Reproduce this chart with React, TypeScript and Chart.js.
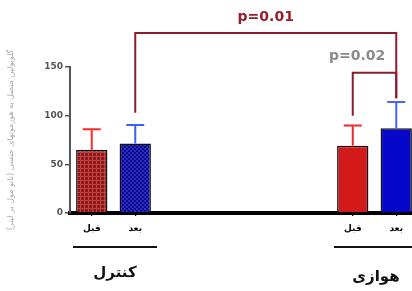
import React, { useEffect, useRef } from "react";
import { Chart, registerables } from "chart.js";

Chart.register(...registerables);

// ---- data ----
const conditionLabels = ["قبل", "بعد"];
const groupLabels = ["کنترل", "هوازی"];
const meanValues = [65, 71.5, 69, 87]; // control before, control after, aerobic before, aerobic after
const sdValues = [21, 19, 21, 27];
const pLabels = ["p=0.01", "p=0.02"];
const pPairs = [
  [1, 3],
  [2, 3],
];
const pLevels = [185, 144];
const pLegs = [
  [103, 118],
  [100, 118],
];
const yTitle = "گلوبولین متصل به هورمونهای جنسی (نانو مول بر لیتر)";
const yMax = 150;
const yStep = 50;

const GAP = 4;
const categoryLabels = [...conditionLabels, ...Array(GAP).fill(""), ...conditionLabels];
const barCategory = [0, 1, conditionLabels.length + GAP, conditionLabels.length + GAP + 1];

const FONT = "'DejaVu Sans', 'Liberation Sans', sans-serif";

function makePattern(ctx: CanvasRenderingContext2D, bg: string, fg: string, kind: string) {
  const c = document.createElement("canvas");
  c.width = 4;
  c.height = 4;
  const g = c.getContext("2d")!;
  g.fillStyle = bg;
  g.fillRect(0, 0, 4, 4);
  g.fillStyle = fg;
  if (kind === "grid") {
    g.fillRect(0, 0, 1, 4);
    g.fillRect(0, 0, 4, 1);
  } else {
    g.fillRect(0, 0, 2, 2);
    g.fillRect(2, 2, 2, 2);
  }
  return ctx.createPattern(c, "repeat")!;
}

export default function App() {
  const ref = useRef<HTMLCanvasElement>(null);

  useEffect(() => {
    const canvas = ref.current!;
    const ctx = canvas.getContext("2d")!;
    const fills = [
      makePattern(ctx, "#8a1a1c", "#c4403f", "grid"),
      makePattern(ctx, "#0b0b7c", "#2a2ad0", "check"),
      "#d31a1a",
      "#0707c9",
    ];
    const errColors = ["#ff2a2a", "#3f5cff", "#ee2a2a", "#4466ff"];

    const data: (number | null)[] = categoryLabels.map(() => null);
    const bg: any[] = categoryLabels.map(() => "transparent");
    barCategory.forEach((ci, i) => {
      data[ci] = meanValues[i];
      bg[ci] = fills[i];
    });

    const overlay = {
      id: "overlay",
      afterDraw(chart: any) {
        const c = chart.ctx as CanvasRenderingContext2D;
        const xs = chart.scales.x;
        const ys = chart.scales.y;
        const meta = chart.getDatasetMeta(0);
        c.save();
        // error bars
        barCategory.forEach((ci, i) => {
          const el = meta.data[ci];
          const x = el.x;
          const yTop = ys.getPixelForValue(meanValues[i] + sdValues[i]);
          c.strokeStyle = errColors[i];
          c.lineWidth = 2;
          c.beginPath();
          c.moveTo(x, el.y);
          c.lineTo(x, yTop);
          c.moveTo(x - 9, yTop);
          c.lineTo(x + 9, yTop);
          c.stroke();
        });
        // significance brackets
        pPairs.forEach((pair, k) => {
          const xa = xs.getPixelForValue(barCategory[pair[0]]);
          const xb = xs.getPixelForValue(barCategory[pair[1]]);
          const yl = ys.getPixelForValue(pLevels[k]);
          const ya = ys.getPixelForValue(pLegs[k][0]);
          const yb = ys.getPixelForValue(pLegs[k][1]);
          c.strokeStyle = "#8c1d2e";
          c.lineWidth = 2;
          c.beginPath();
          c.moveTo(xa, ya);
          c.lineTo(xa, yl);
          c.lineTo(xb, yl);
          c.lineTo(xb, yb);
          c.stroke();
          c.font = `bold 14px ${FONT}`;
          c.textBaseline = "middle";
          if (k === 0) {
            c.fillStyle = "#9a1c2c";
            c.textAlign = "center";
            c.fillText(pLabels[k], (xa + xb) / 2, yl - 16);
          } else {
            c.fillStyle = "#8a8a8a";
            c.textAlign = "right";
            c.fillText(pLabels[k], xb - 11, yl - 16);
          }
        });
        // group underline + labels
        const half = (xs.getPixelForValue(1) - xs.getPixelForValue(0)) / 2;
        groupLabels.forEach((g, gi) => {
          const first = gi === 0 ? barCategory[0] : barCategory[2];
          const last = gi === 0 ? barCategory[1] : barCategory[3];
          const x0 = xs.getPixelForValue(first) - half + 3;
          const x1 = xs.getPixelForValue(last) + half;
          const yLine = ys.bottom + 34;
          c.strokeStyle = "#111";
          c.lineWidth = 2;
          c.beginPath();
          c.moveTo(x0, yLine);
          c.lineTo(x1, yLine);
          c.stroke();
          c.fillStyle = "#111";
          c.font = `bold 15px ${FONT}`;
          c.textAlign = "center";
          c.textBaseline = "middle";
          c.fillText(g, (x0 + x1) / 2, yLine + 26 + gi * 4);
        });
        c.restore();
      },
    };

    const chart = new Chart(canvas, {
      type: "bar",
      data: {
        labels: categoryLabels,
        datasets: [
          {
            data,
            backgroundColor: bg,
            borderColor: "#111",
            borderWidth: 1.5,
            barPercentage: 0.72,
            categoryPercentage: 1,
          },
        ],
      },
      options: {
        animation: false,
        responsive: false,
        maintainAspectRatio: false,
        layout: { padding: { top: 67, right: 0, bottom: 0, left: 0 } },
        plugins: { legend: { display: false }, tooltip: { enabled: false } },
        scales: {
          x: {
            type: "category",
            offset: true,
            grid: {
              display: true,
              drawOnChartArea: false,
              drawTicks: true,
              tickLength: 3,
              offset: false,
              lineWidth: 1.2,
              color: (ctx: any) => (ctx.tick && ctx.tick.label === "" ? "transparent" : "#000"),
            },
            border: { display: true, color: "#000", width: 4 },
            ticks: {
              autoSkip: false,
              maxRotation: 0,
              padding: 7,
              color: "#000",
              font: { family: FONT, weight: "bold", size: 9 },
            },
            afterFit: (s: any) => {
              s.height = 78;
            },
          },
          y: {
            min: 0,
            max: yMax,
            ticks: {
              stepSize: yStep,
              padding: 2,
              color: "#555",
              font: { family: FONT, weight: "bold", size: 9 },
            },
            grid: {
              display: true,
              drawOnChartArea: false,
              drawTicks: true,
              tickLength: 5,
              color: "#555",
              lineWidth: 1.5,
            },
            border: { display: true, color: "#555", width: 2 },
            title: {
              display: true,
              text: yTitle,
              color: "#aaa",
              font: { family: FONT, size: 8 },
              padding: { top: 6, bottom: 0 },
            },
            afterFit: (s: any) => {
              s.width = 70;
            },
          },
        },
      } as any,
      plugins: [overlay],
    });
    return () => chart.destroy();
  }, []);

  return (
    <div
      style={{
        position: "fixed",
        left: 0,
        top: 0,
        width: 412,
        height: 291,
        overflow: "hidden",
        background: "#fff",
      }}
    >
      <canvas ref={ref} width={418} height={291} style={{ display: "block", width: 418, height: 291 }} />
    </div>
  );
}
